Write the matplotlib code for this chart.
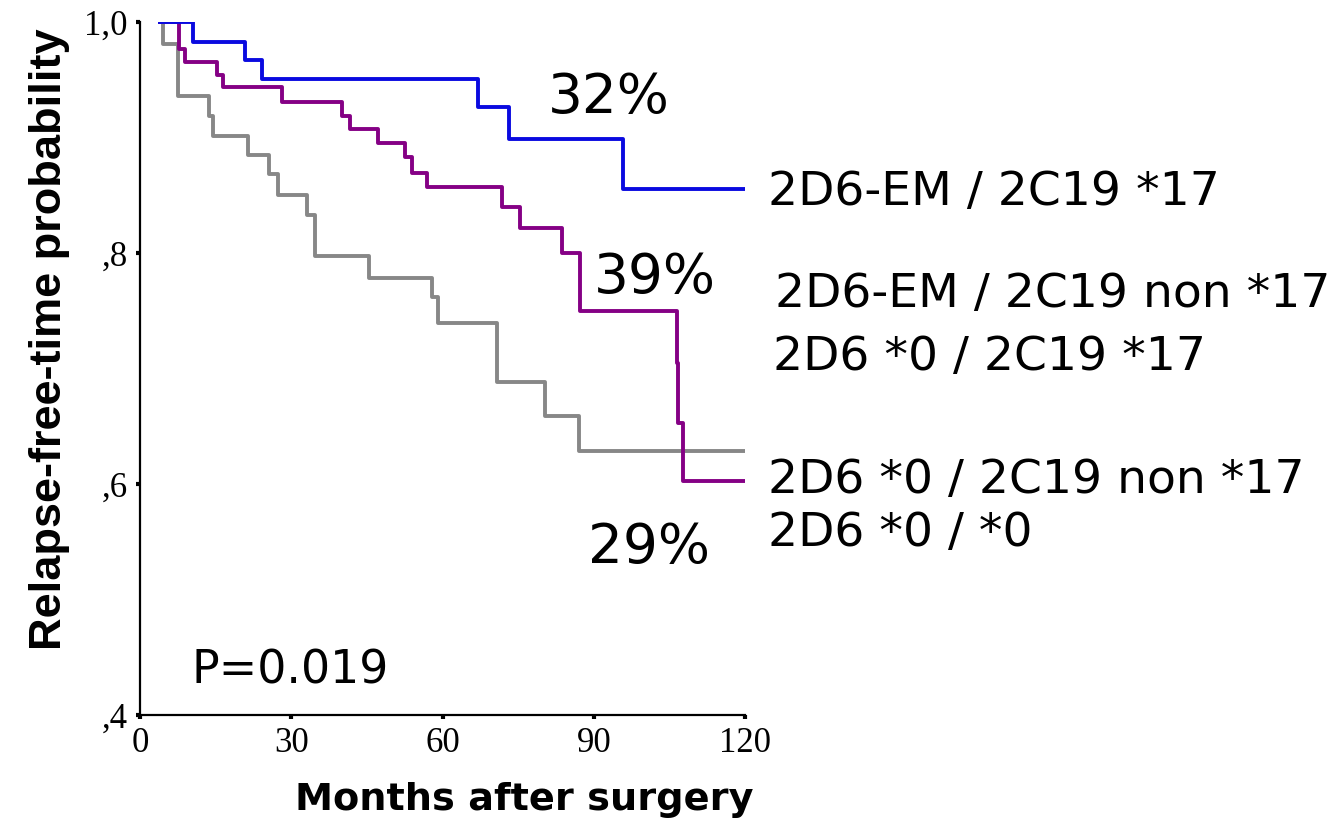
import matplotlib.pyplot as plt

# Kaplan-Meier style step data
blue_t = [4, 10.5, 20.8, 24.2, 67, 73.2, 95.8, 120]
blue_s = [1.0, 0.983, 0.967, 0.951, 0.926, 0.899, 0.855, 0.855]

purple_t = [4, 7.7, 8.9, 15.3, 16.5, 28.2, 40, 41.7, 47.2, 52.6, 54, 57,
            71.8, 75.4, 83.7, 87.3, 106.5, 106.8, 107.7, 120]
purple_s = [1.0, 0.977, 0.965, 0.954, 0.944, 0.931, 0.919, 0.907, 0.895, 0.883,
            0.869, 0.857, 0.840, 0.822, 0.800, 0.750, 0.705, 0.653, 0.603, 0.603]

gray_t = [4, 4.6, 7.5, 13.7, 14.5, 21.4, 25.6, 27.4, 33.1, 34.7, 45.5, 57.9,
          59.1, 70.8, 80.4, 87.1, 120]
gray_s = [1.0, 0.981, 0.936, 0.919, 0.901, 0.885, 0.868, 0.850, 0.833, 0.797,
          0.778, 0.762, 0.739, 0.688, 0.659, 0.629, 0.629]

xticks = [0, 30, 60, 90, 120]
yticks = [0.4, 0.6, 0.8, 1.0]
ytick_labels = [',4', ',6', ',8', '1,0']

percent_labels = ['32%', '39%', '29%']
group_labels = ['2D6-EM / 2C19 *17', '2D6-EM / 2C19 non *17', '2D6 *0 / 2C19 *17',
                '2D6 *0 / 2C19 non *17', '2D6 *0 / *0']
p_text = 'P=0.019'

W, H = 1344, 823
fig = plt.figure(figsize=(W / 100, H / 100), dpi=100)
ax = fig.add_axes([140 / W, 1 - 715 / H, 605 / W, (715 - 22) / H])

ax.plot(gray_t, gray_s, drawstyle='steps-post', color='#878787', lw=2.8)
ax.plot(purple_t, purple_s, drawstyle='steps-post', color='#850085', lw=2.8)
ax.plot(blue_t, blue_s, drawstyle='steps-post', color='#0a0ae0', lw=2.8)

ax.set_xlim(0, 120)
ax.set_ylim(0.4, 1.0)
ax.spines['top'].set_visible(False)
ax.spines['right'].set_visible(False)
for s in ['left', 'bottom']:
    ax.spines[s].set_linewidth(1.6)
ax.set_xticks(xticks)
ax.set_xticklabels([str(v) for v in xticks], family='Liberation Serif', fontsize=25)
ax.set_yticks(yticks)
ax.set_yticklabels(ytick_labels, family='Liberation Serif', fontsize=25)
ax.tick_params(length=3, width=3, pad=6)

fig.text(50 / W, 1 - 339 / H, 'Relapse-free-time probability', rotation=90,
         ha='center', va='center', fontsize=32.5, fontweight='bold',
         family='Liberation Sans')
fig.text(524 / W, 1 - 800 / H, 'Months after surgery', ha='center', va='center',
         fontsize=27.5, fontweight='bold', family='DejaVu Sans')


def put(txt, x, y, size):
    fig.text(x / W, 1 - y / H, txt, ha='left', va='baseline', fontsize=size,
             family='DejaVu Sans')


put(percent_labels[0], 548, 113, 39.5)
put(percent_labels[1], 594, 293, 39.5)
put(percent_labels[2], 588, 563, 39.5)
put(group_labels[0], 768, 205, 34)
put(group_labels[1], 775, 307, 34)
put(group_labels[2], 773, 370, 34)
put(group_labels[3], 768, 493, 34)
put(group_labels[4], 768, 546, 34)
put(p_text, 192, 683, 33)

fig.savefig('out.png', dpi=100)
